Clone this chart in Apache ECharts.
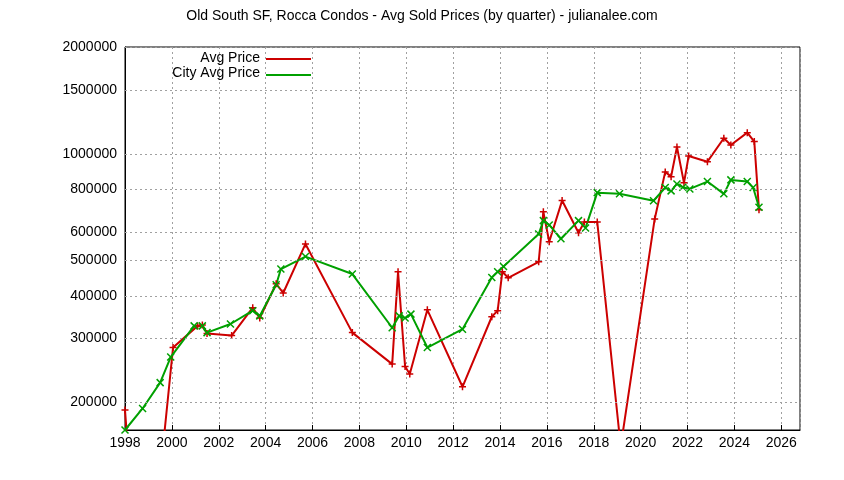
<!DOCTYPE html>
<html><head><meta charset="utf-8">
<script src="https://cdn.jsdelivr.net/npm/echarts@6/dist/echarts.min.js"></script>
<style>html,body{margin:0;padding:0;background:#fff}#c{width:844px;height:480px}</style>
</head><body><div id="c"></div>
<script>
const avgYears  = [1998.0,1998.15,1999.6,2000.05,2001.1,2001.3,2001.5,2002.55,2003.45,2003.75,2004.45,2004.75,2005.7,2007.7,2009.4,2009.65,2009.95,2010.15,2010.9,2012.4,2013.65,2013.9,2014.1,2014.35,2015.65,2015.85,2016.1,2016.65,2017.35,2017.6,2018.15,2019.15,2020.6,2021.05,2021.3,2021.55,2021.85,2022.05,2022.85,2023.55,2023.85,2024.55,2024.85,2025.05];
const avgPrices = [190000,140000,145000,285000,328000,330000,312000,308000,369000,345000,431000,406000,558000,314000,256000,466000,252000,240000,364000,221000,348000,362000,466000,448000,497000,687000,566000,739000,600000,643000,643000,150000,656000,890000,863000,1046000,829000,987000,951000,1107000,1060000,1148000,1083000,696000];
const cityYears  = [1998.0,1998.75,1999.5,1999.95,2000.95,2001.3,2001.5,2002.5,2003.45,2003.75,2004.45,2004.65,2005.7,2007.7,2009.4,2009.7,2009.95,2010.2,2010.9,2012.4,2013.65,2013.9,2014.15,2015.65,2015.85,2016.1,2016.6,2017.35,2017.65,2018.15,2019.1,2020.55,2021.05,2021.3,2021.55,2021.8,2022.1,2022.85,2023.55,2023.85,2024.55,2024.8,2025.05];
const cityPrices = [167000,192000,227000,268000,328000,328000,314000,332000,362000,350000,428000,474000,514000,459000,324000,350000,345000,354000,285000,321000,449000,466000,482000,595000,649000,631000,577000,649000,619000,778000,772000,738000,804000,787000,823000,806000,797000,836000,772000,845000,836000,804000,708000];
const yTicks = [200000,300000,400000,500000,600000,800000,1000000,1500000,2000000];
const xMin = 1998, xMax = 2026.8, yMin = 167000, yMax = 2000000;

const L = Math.log10;
const pair = (xs, ys) => xs.map((x, i) => [x, L(ys[i])]);
const font = 'Liberation Sans, Arial, sans-serif';
const chart = echarts.init(document.getElementById('c'));
chart.setOption({
  animation: false,
  title: {text: 'Old South SF, Rocca Condos - Avg Sold Prices (by quarter) - julianalee.com', left: 'center', top: 4,
    textStyle: {fontFamily: font, fontSize: 14, fontWeight: 'normal', color: '#000'}},
  grid: {left: 125, right: 44, top: 47, bottom: 50, show: true, borderColor: '#000', borderWidth: 1},
  xAxis: {type: 'value', min: xMin, max: xMax, interval: 2,
    axisLine: {lineStyle: {color: '#000'}}, axisTick: {inside: true, length: 5, lineStyle: {color: '#000'}},
    axisLabel: {color: '#000', fontFamily: font, fontSize: 14, showMaxLabel: false, margin: 6, formatter: v => String(v)},
    splitLine: {show: true, lineStyle: {color: '#a0a0a0', type: [2, 3], width: 1}}},
  yAxis: {type: 'value', min: L(yMin), max: L(yMax),
    axisLine: {show: true, lineStyle: {color: '#000'}}, axisTick: {show: false}, axisLabel: {show: false}, splitLine: {show: false}},
  graphic: [
    {type: 'text', right: 844 - 260, top: 51, style: {text: 'Avg Price', fill: '#000', font: '14px ' + font, textAlign: 'right'}},
    {type: 'line', shape: {x1: 266, y1: 59, x2: 311, y2: 59}, style: {stroke: '#cc0000', lineWidth: 2}},
    {type: 'text', right: 844 - 260, top: 66, style: {text: 'City Avg Price', fill: '#000', font: '14px ' + font, textAlign: 'right'}},
    {type: 'line', shape: {x1: 266, y1: 75, x2: 311, y2: 75}, style: {stroke: '#00a000', lineWidth: 2}}
  ],
  series: [
    {type: 'line', data: [], silent: true,
      markLine: {silent: true, symbol: 'none',
        lineStyle: {color: '#a0a0a0', type: [2, 3], width: 1},
        label: {position: 'start', formatter: p => String(yTicks[p.dataIndex]), color: '#000', fontFamily: font, fontSize: 14, distance: 8},
        data: yTicks.map(v => ({yAxis: L(v)}))}},
    {name: 'Avg Price', type: 'line', data: pair(avgYears, avgPrices), clip: true,
      symbol: 'path://M0,5L10,5M5,0L5,10', symbolSize: 7,
      lineStyle: {color: '#cc0000', width: 2}, itemStyle: {color: '#cc0000', borderColor: '#cc0000', borderWidth: 1.5}},
    {name: 'City Avg Price', type: 'line', data: pair(cityYears, cityPrices), clip: true,
      symbol: 'path://M0,0L10,10M10,0L0,10', symbolSize: 7,
      lineStyle: {color: '#00a000', width: 2}, itemStyle: {color: '#00a000', borderColor: '#00a000', borderWidth: 1.5}}
  ]
});
</script></body></html>
